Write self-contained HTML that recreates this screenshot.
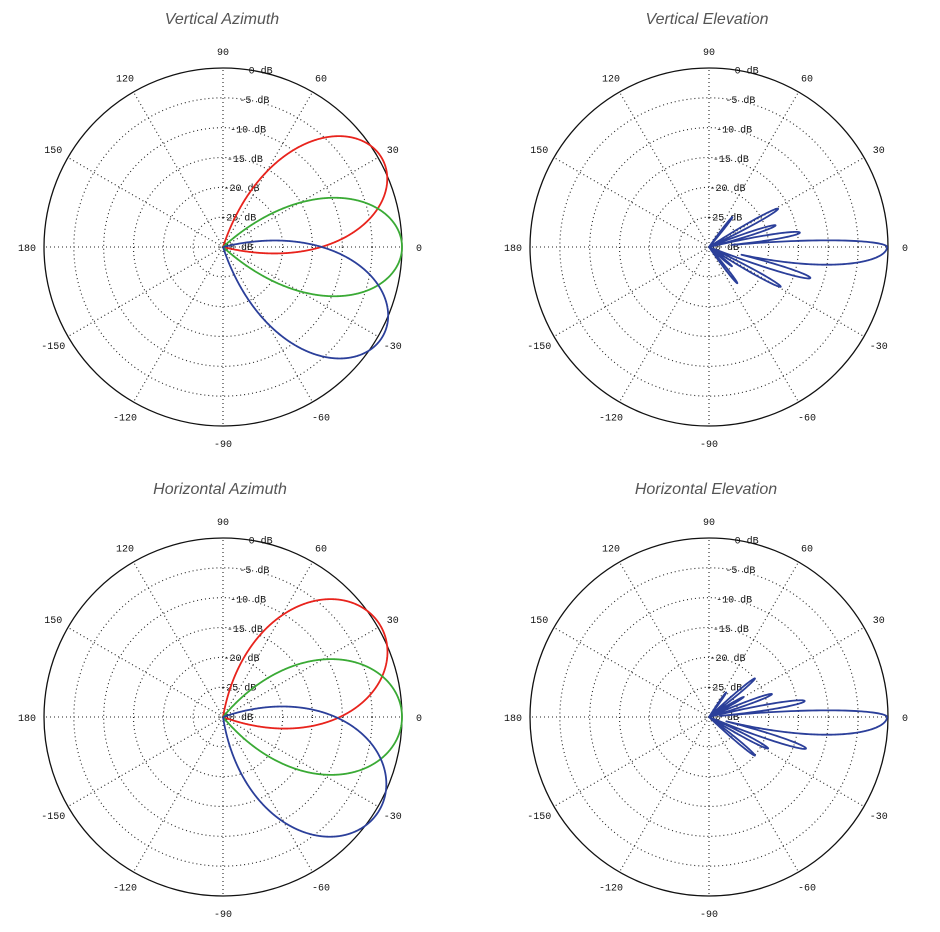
<!DOCTYPE html>
<html><head><meta charset="utf-8">
<style>
body{margin:0;background:#fff;width:940px;height:932px;overflow:hidden}
svg{display:block}
.t{font-family:"Liberation Sans",sans-serif;font-style:italic;font-size:16px;fill:#555}
.l{font-family:"Liberation Mono",monospace;font-size:10px;fill:#111}
</style></head><body>
<svg id="s" width="940" height="932" viewBox="0 0 940 932" xmlns="http://www.w3.org/2000/svg">
<text class="t" x="222" y="24" text-anchor="middle">Vertical Azimuth</text>
<text class="t" x="707" y="24" text-anchor="middle">Vertical Elevation</text>
<text class="t" x="220" y="494" text-anchor="middle">Horizontal Azimuth</text>
<text class="t" x="706" y="494" text-anchor="middle">Horizontal Elevation</text>
</svg>
<script>
var s=document.getElementById('s'),NS='http://www.w3.org/2000/svg',R=179;
function el(n,a,t){var e=document.createElementNS(NS,n);for(var k in a)e.setAttribute(k,a[k]);if(t!=null)e.textContent=t;s.appendChild(e);return e;}
function grid(cx,cy){
 for(var i=1;i<=5;i++)el('circle',{cx:cx,cy:cy,r:R*i/6,fill:'none',stroke:'#222','stroke-width':1.1,'stroke-dasharray':'1 3'});
 for(var a=0;a<360;a+=30){var r=a*Math.PI/180;el('line',{x1:cx,y1:cy,x2:cx+R*Math.cos(r),y2:cy-R*Math.sin(r),stroke:'#222','stroke-width':1.1,'stroke-dasharray':'1 3'});
  var lab=a<=180?a:a-360;el('text',{'class':'l',x:cx+196*Math.cos(r),y:cy-196*Math.sin(r)+4,'text-anchor':'middle'},String(lab));}
 el('circle',{cx:cx,cy:cy,r:R,fill:'none',stroke:'#111','stroke-width':1.3});
 for(var i=0;i<=6;i++){var rr=R*i/6;el('text',{'class':'l',x:cx+30+rr*0.11,y:cy-rr*0.985+3,'text-anchor':'end'},(i==6?'0':'-'+(30-5*i))+' dB');}
}
function curve(cx,cy,lobes,col){
 var d='';for(var t=-180;t<=180;t+=0.1){var r=0;lobes.forEach(function(L){var w=(t>=L[0])?L[2]:(L[3]||L[2]);var dd=(t-L[0])/w;r=Math.max(r,L[1]*(1-0.2895*dd*dd));});
  var a=t*Math.PI/180;d+=(d?'L':'M')+(cx+r*Math.cos(a)).toFixed(2)+' '+(cy-r*Math.sin(a)).toFixed(2);}
 el('path',{d:d,fill:'none',stroke:col,'stroke-width':1.8,'stroke-linejoin':'round'});
}
var pos=[[223,247],[709,247],[223,717],[709,717]];
pos.forEach(function(p){grid(p[0],p[1]);});
curve(223,247,[[29,182,23]],'#e8231c');
curve(223,247,[[0,179,22.7]],'#3aaa35');
curve(223,247,[[-29,183,23]],'#2b3f9a');
curve(709,247,[[0,178,3,8],[9,92,2.3],[18,70,2],[29,79,2],[52,38,1.5],[-17,106,2.3],[-29,82,2],[-52,46,1.7],[-40,30,1.5]],'#2b3f9a');
curve(223,717,[[30,182,27]],'#e8231c');
curve(223,717,[[0,179,27]],'#3aaa35');
curve(223,717,[[-31,182,27]],'#2b3f9a');
curve(709,717,[[0,178,3,8],[9.5,97,2.3],[20,67,2],[40,60,1.8],[30,40,1.5],[55,30,1.4],[-18,102,2.3],[-28,67,2],[-40,60,1.8]],'#2b3f9a');
</script>
</body></html>
